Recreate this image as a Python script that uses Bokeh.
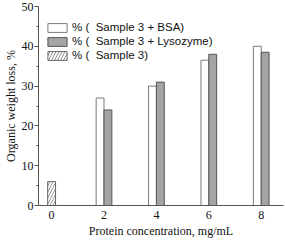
from bokeh.plotting import figure
from bokeh.models import Range1d, SingleIntervalTicker, FixedTicker, Legend, LegendItem
from bokeh.embed import file_html
from bokeh.resources import INLINE

conc = [2, 4, 6, 8]
bsa = [27, 30, 36.5, 40]
lyso = [24, 31, 38, 38.5]
sample3_x = [0]
sample3 = [6]
x_ticks = [0, 2, 4, 6, 8]
labels = ["% (  Sample 3 + BSA)", "% (  Sample 3 + Lysozyme)", "% (  Sample 3)"]

bar_w = 0.3

p = figure(width=285, height=240, output_backend="svg", toolbar_location=None,
           x_range=Range1d(-0.5, 8.85), y_range=Range1d(0, 50),
           min_border_top=6, min_border_right=2, min_border_left=0, min_border_bottom=0)
p.outline_line_color = None
p.grid.visible = False
p.background_fill_color = "white"

r1 = p.vbar(x=[c - bar_w / 2 for c in conc], top=bsa, width=bar_w, bottom=0,
            fill_color="white", line_color="#7a7a7a", line_width=1)
r2 = p.vbar(x=[c + bar_w / 2 for c in conc], top=lyso, width=bar_w, bottom=0,
            fill_color="#a4a4a4", line_color="#555555", line_width=1)
r3 = p.vbar(x=sample3_x, top=sample3, width=bar_w, bottom=0,
            fill_color="white", line_color="#666666", line_width=1,
            hatch_pattern="/", hatch_color="#777777", hatch_scale=6, hatch_weight=0.8)

legend = Legend(items=[LegendItem(label=labels[0], renderers=[r1]),
                       LegendItem(label=labels[1], renderers=[r2]),
                       LegendItem(label=labels[2], renderers=[r3])],
                location=(7, 144), margin=0, padding=0, spacing=2,
                glyph_width=24, glyph_height=11, label_height=11, label_standoff=3,
                label_text_font="Liberation Sans", label_text_font_size="11.5px",
                label_text_color="#111111",
                border_line_alpha=0, background_fill_alpha=0)
p.add_layout(legend)

# y axis
p.yaxis.ticker = SingleIntervalTicker(interval=10, num_minor_ticks=2)
p.yaxis.major_tick_out = 4
p.yaxis.major_tick_in = 0
p.yaxis.minor_tick_out = 2
p.yaxis.minor_tick_in = 0
p.yaxis.axis_label = "Organic weight loss, %"
p.yaxis.major_label_standoff = 1
p.yaxis.axis_label_standoff = 1

# x axis
p.xaxis.ticker = FixedTicker(ticks=x_ticks)
p.xaxis.major_tick_out = 0
p.xaxis.major_tick_in = 0
p.xaxis.minor_tick_out = 0
p.xaxis.minor_tick_in = 0
p.xaxis.axis_label = "Protein concentration, mg/mL"
p.xaxis.major_label_standoff = 5
p.xaxis.axis_label_standoff = 2

for ax in (p.xaxis, p.yaxis):
    ax.axis_line_color = "#555555"
    ax.major_tick_line_color = "#555555"
    ax.minor_tick_line_color = "#555555"
    ax.major_label_text_font = "Liberation Serif"
    ax.major_label_text_font_size = "12px"
    ax.major_label_text_color = "#111111"
    ax.axis_label_text_font = "Liberation Serif"
    ax.axis_label_text_font_size = "12px"
    ax.axis_label_text_font_style = "normal"
    ax.axis_label_text_color = "#111111"

open("out.html", "w").write(file_html(p, INLINE))
